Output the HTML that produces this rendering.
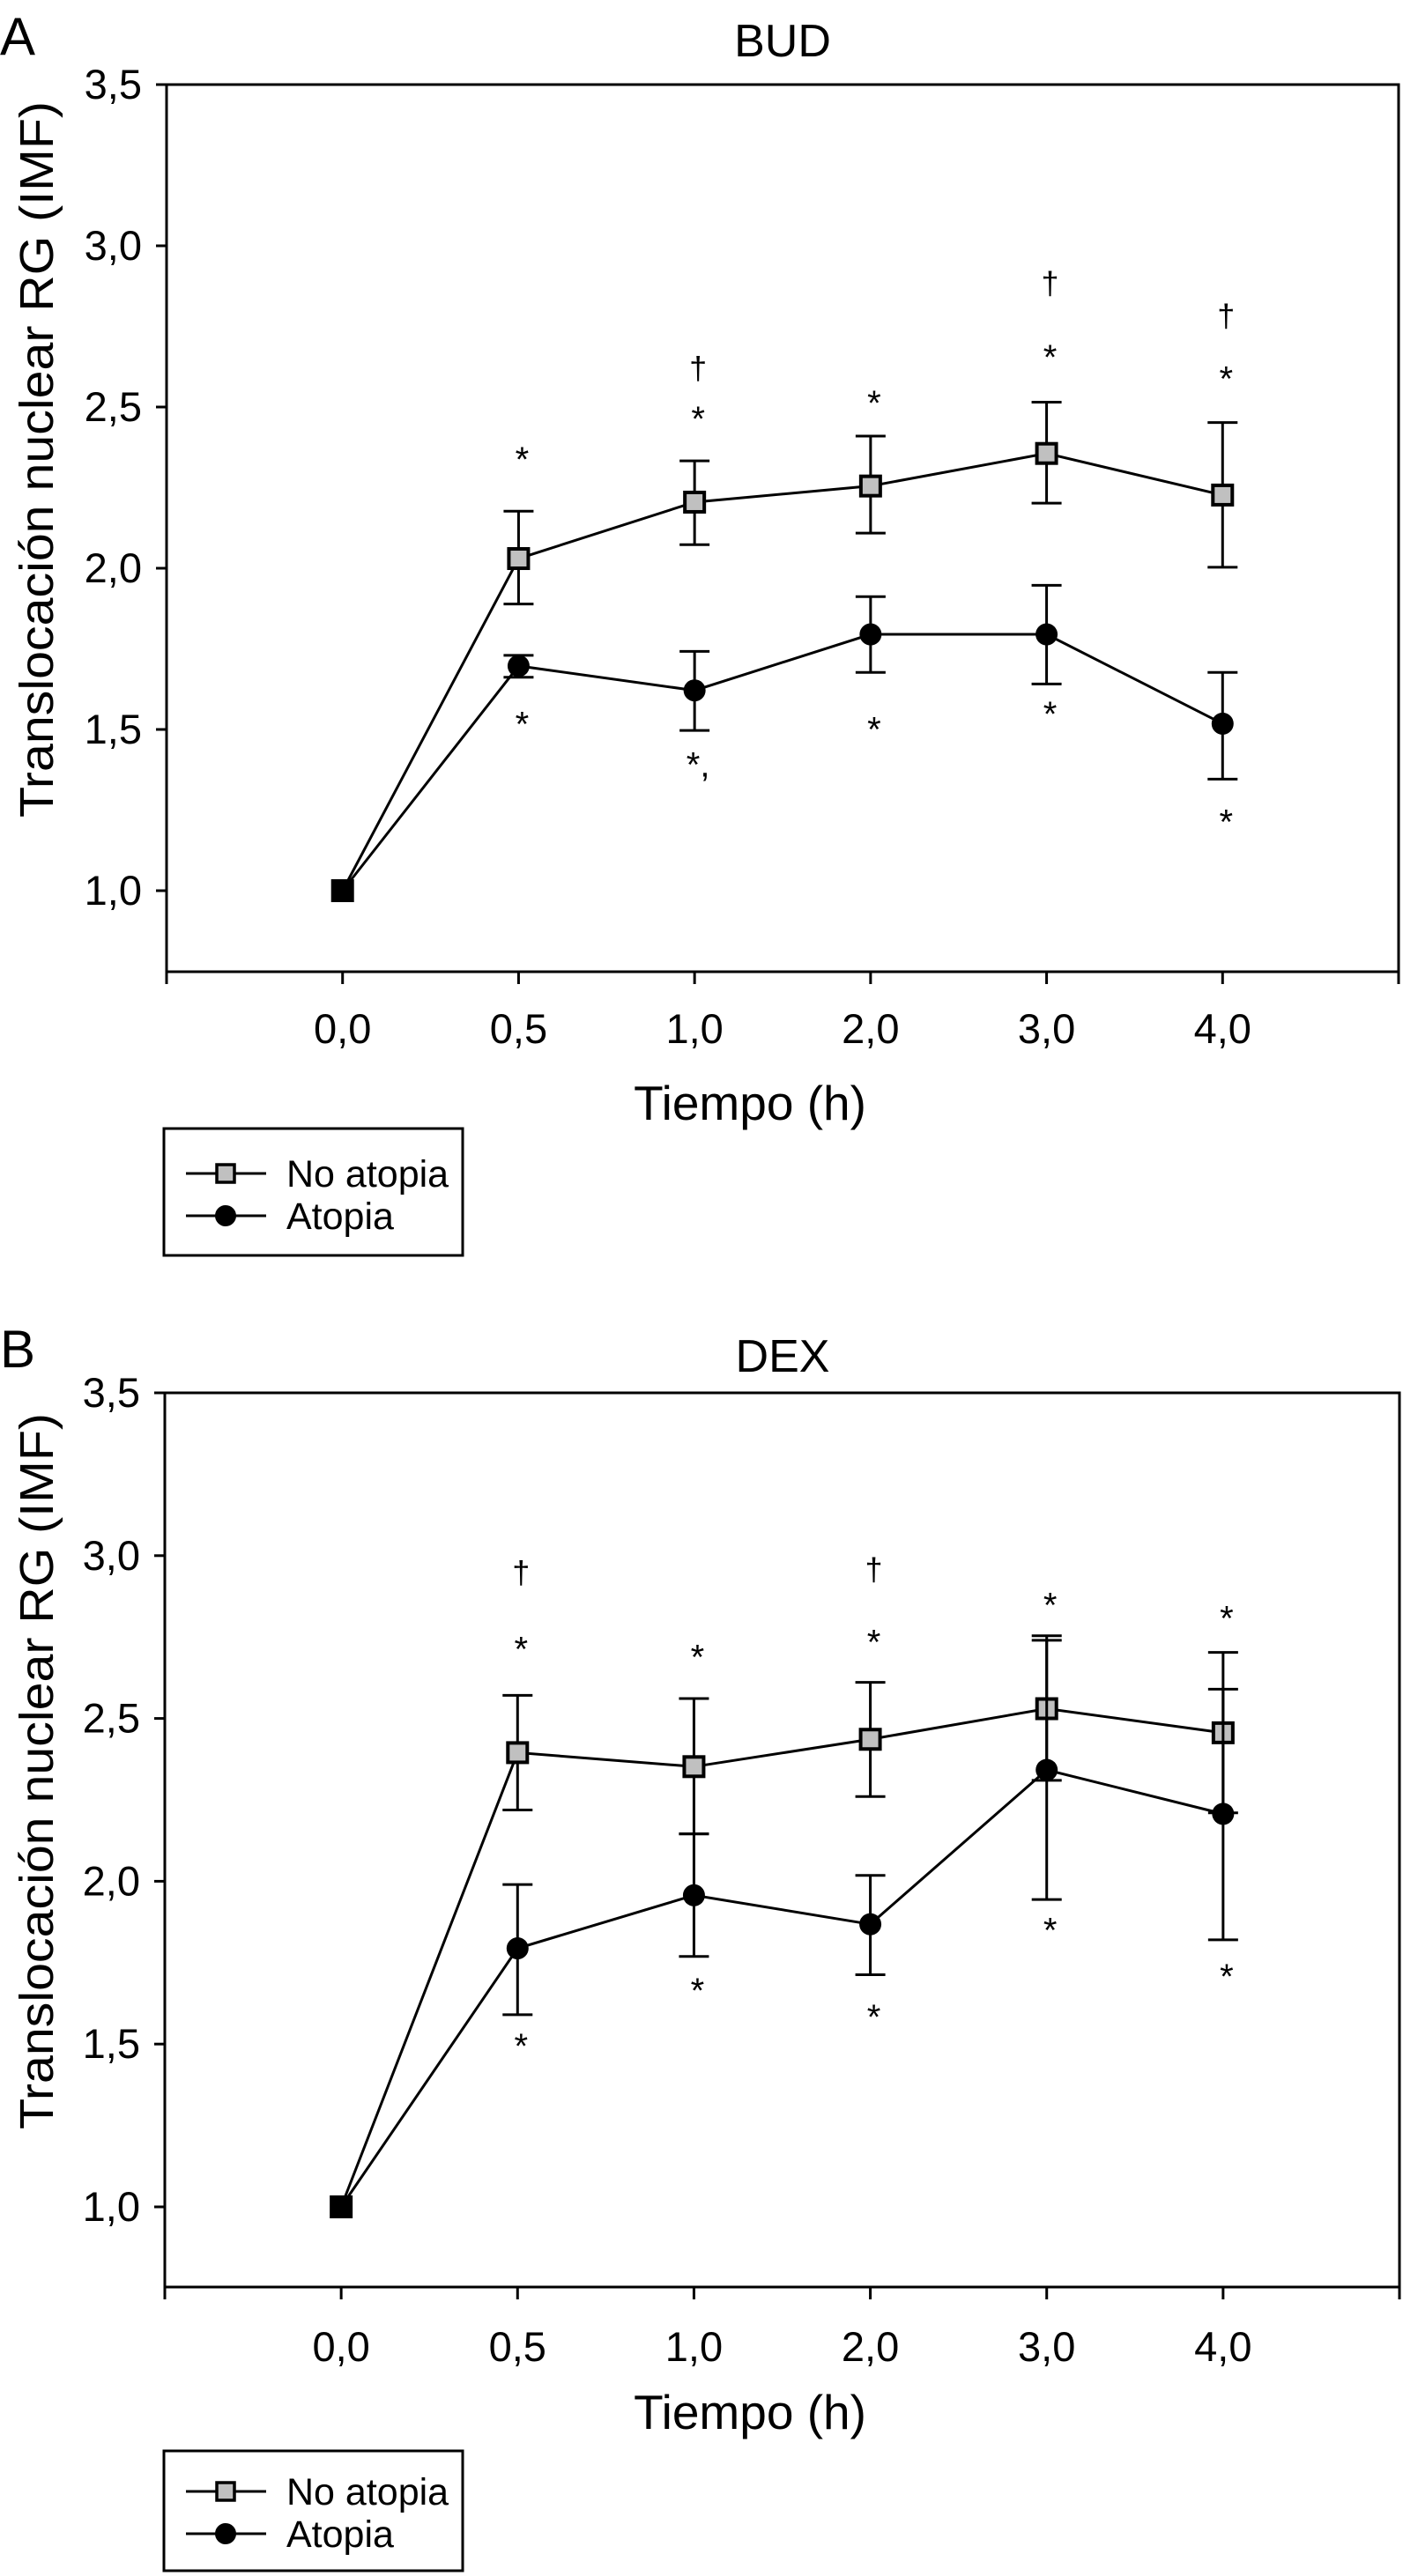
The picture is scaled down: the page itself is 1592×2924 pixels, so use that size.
<!DOCTYPE html>
<html><head><meta charset="utf-8"><style>
html,body{margin:0;padding:0;background:#fff;}
svg{display:block;font-family:"Liberation Sans",Arial,sans-serif;}
</style></head><body>
<svg id="chart" width="1592" height="2924" viewBox="0 0 1592 2924" xmlns="http://www.w3.org/2000/svg"></svg>
<script>
const categories = ["0,0","0,5","1,0","2,0","3,0","4,0"];
const yTicks = [1.0,1.5,2.0,2.5,3.0,3.5];
const yTickLabels = ["1,0","1,5","2,0","2,5","3,0","3,5"];
// Panel A (BUD)
const budNoAtopia = [1.0,2.03,2.205,2.255,2.356,2.227];
const budNoAtopiaHi = [1.0,2.177,2.333,2.41,2.515,2.452];
const budNoAtopiaLo = [1.0,1.889,2.073,2.109,2.202,2.003];
const budAtopia = [1.0,1.697,1.621,1.795,1.795,1.518];
const budAtopiaHi = [1.0,1.73,1.742,1.912,1.947,1.677];
const budAtopiaLo = [1.0,1.662,1.497,1.677,1.641,1.346];
const budAnnot = [[1,2.36,"*"],[2,2.487,"*"],[2,2.62,"†"],[3,2.535,"*"],[4,2.677,"*"],[4,2.884,"†"],[5,2.611,"*"],[5,2.783,"†"],[1,1.54,"*"],[2,1.414,"*,"],[3,1.523,"*"],[4,1.571,"*"],[5,1.237,"*"]];
// Panel B (DEX)
const dexNoAtopia = [1.0,2.395,2.352,2.436,2.53,2.456];
const dexNoAtopiaHi = [1.0,2.571,2.561,2.611,2.754,2.703];
const dexNoAtopiaLo = [1.0,2.219,2.145,2.26,2.31,2.21];
const dexAtopia = [1.0,1.794,1.957,1.868,2.342,2.207];
const dexAtopiaHi = [1.0,1.99,2.146,2.018,2.74,2.59];
const dexAtopiaLo = [1.0,1.59,1.769,1.713,1.944,1.82];
const dexAnnot = [[1,2.948,"†"],[1,2.736,"*"],[1,1.517,"*"],[2,2.711,"*"],[2,1.687,"*"],[3,2.958,"†"],[3,2.757,"*"],[3,1.606,"*"],[4,2.871,"*"],[4,1.873,"*"],[5,2.83,"*"],[5,1.731,"*"]];

const NS="http://www.w3.org/2000/svg";
const svg=document.getElementById('chart');
function mk(tag,attrs,parent,text){const e=document.createElementNS(NS,tag);for(const k in attrs)e.setAttribute(k,attrs[k]);if(text!==undefined)e.textContent=text;(parent||svg).appendChild(e);return e;}

function panel(o){
  const g=mk('g',{});
  
  
  const xs=i=>o.x0+(i+1)*(o.x1-o.x0)/7;
  const ys=v=>o.y35+(3.5-v)/2.5*(o.y10-o.y35);
  let t=mk('text',{x:0,y:o.letterY,'font-size':60},g,o.letter);
  
  t=mk('text',{x:888,y:o.titleY,'font-size':52,'text-anchor':'middle'},g,o.title);
  
  let r=mk('path',{d:`M${o.x0},${o.y35} H${o.x1} V${o.yb} H${o.x0} Z`,fill:'none',stroke:'#000','stroke-width':3},g);
  
  yTicks.forEach((v,i)=>{
    const y=ys(v);
    const tk=mk('line',{x1:o.x0-12,x2:o.x0,y1:y,y2:y,stroke:'#000','stroke-width':3},g);
    
    const lb=mk('text',{x:o.x0-28,y:y+16,'font-size':47,'text-anchor':'end'},g,yTickLabels[i]);
    
  });
  for(let i=-1;i<=6;i++){
    const x=o.x0+(i+1)*(o.x1-o.x0)/7;
    const tk=mk('line',{x1:x,x2:x,y1:o.yb,y2:o.yb+14,stroke:'#000','stroke-width':3},g);
    
  }
  categories.forEach((c,i)=>{
    const lb=mk('text',{x:xs(i),y:o.tickY+2,'font-size':47,'text-anchor':'middle'},g,c);
    
  });
  t=mk('text',{x:851,y:o.xTitleY+3,'font-size':55,'text-anchor':'middle'},g,'Tiempo (h)');
  
  const yc=(o.y35+o.yb)/2-78;
  t=mk('text',{x:0,y:0,'font-size':54,'text-anchor':'middle',textLength:813,lengthAdjust:'spacingAndGlyphs',transform:`translate(60,${yc}) rotate(-90)`},g,'Translocación nuclear RG (IMF)');
  
  function series(vals,hi,lo,sq,nm){
    let d='';vals.forEach((v,i)=>{d+=(i?'L':'M')+xs(i)+','+ys(v)+' ';});
    for(let i=1;i<vals.length;i++){
      const x=xs(i);
      const eb=mk('path',{d:`M${x},${ys(hi[i])} V${ys(lo[i])} M${x-17},${ys(hi[i])} H${x+17} M${x-17},${ys(lo[i])} H${x+17}`,stroke:'#000','stroke-width':3,fill:'none'},g);
      
    }
    const ln=mk('path',{d:d,stroke:'#000','stroke-width':3,fill:'none'},g);
    
    vals.forEach((v,i)=>{
      let m;
      if(sq) m=mk('rect',{x:xs(i)-11,y:ys(v)-11,width:22,height:22,fill:i==0?'#000':'#c0c0c0',stroke:'#000','stroke-width':4},g);
      else m=mk('circle',{cx:xs(i),cy:ys(v),r:12.5,fill:'#000'},g);
      
    });
  }
  series(o.na,o.naHi,o.naLo,true,'no-atopia');
  series(o.at,o.atHi,o.atLo,false,'atopia');
  o.annot.forEach(a=>{
    const s=mk('text',{x:xs(a[0])+4,y:ys(a[1])+(a[2]==='†'?12:22),'font-size':a[2]==='†'?36:40,'text-anchor':'middle'},g,a[2]);
    
  });
  const lg=mk('g',{},g);
  
  mk('rect',{x:186,y:o.legY0,width:339,height:o.legY1-o.legY0,fill:'#fff',stroke:'#000','stroke-width':3},lg);
  const e1=mk('g',{},lg);
  mk('line',{x1:211,x2:302,y1:o.legR1,y2:o.legR1,stroke:'#000','stroke-width':3},e1);
  mk('rect',{x:246,y:o.legR1-10,width:20,height:20,fill:'#c0c0c0',stroke:'#000','stroke-width':3.5},e1);
  mk('text',{x:325,y:o.legR1+15,'font-size':43},e1,'No atopia');
  const e2=mk('g',{},lg);
  mk('line',{x1:211,x2:302,y1:o.legR2,y2:o.legR2,stroke:'#000','stroke-width':3},e2);
  mk('circle',{cx:256,cy:o.legR2,r:12,fill:'#000'},e2);
  mk('text',{x:325,y:o.legR2+15,'font-size':43},e2,'Atopia');
}
panel({name:'panel-a-bud',letter:'A',letterY:62,title:'BUD',titleY:64,x0:189,x1:1587,y35:96,y10:1011,yb:1103,tickY:1182,xTitleY:1268,legY0:1281,legY1:1425,legR1:1332,legR2:1380,
  na:budNoAtopia,naHi:budNoAtopiaHi,naLo:budNoAtopiaLo,at:budAtopia,atHi:budAtopiaHi,atLo:budAtopiaLo,annot:budAnnot});
panel({name:'panel-b-dex',letter:'B',letterY:1552,title:'DEX',titleY:1557,x0:187,x1:1588,y35:1581,y10:2505,yb:2596,tickY:2678,xTitleY:2754,legY0:2782,legY1:2918,legR1:2828,legR2:2876,
  na:dexNoAtopia,naHi:dexNoAtopiaHi,naLo:dexNoAtopiaLo,at:dexAtopia,atHi:dexAtopiaHi,atLo:dexAtopiaLo,annot:dexAnnot});
</script>
</body></html>
